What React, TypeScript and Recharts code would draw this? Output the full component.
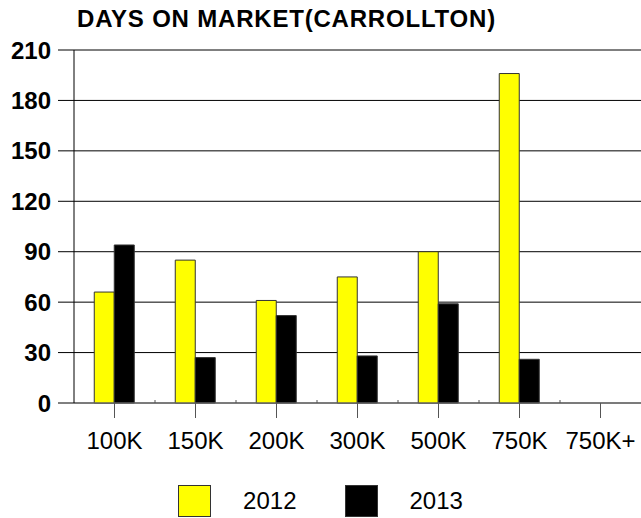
import React from "react";
import { BarChart, Bar, XAxis, YAxis, CartesianGrid, Legend } from "recharts";

const ranges = ["100K", "150K", "200K", "300K", "500K", "750K", "750K+"];
const days2012 = [66, 85, 61, 75, 90, 196, 0];
const days2013 = [94, 27, 52, 28, 59, 26, 0];
const yTicks = [0, 30, 60, 90, 120, 150, 180, 210];

const W = 641;
const H = 518;
const AXIS_W = 74;
const BAND = (W - AXIS_W) / ranges.length;
const FONT = "'Liberation Sans', Arial, sans-serif";

const data = ranges.map((r, i) => ({ range: r, y2012: days2012[i], y2013: days2013[i] }));

const series = [
  { key: "y2012", name: "2012", color: "#ffff00" },
  { key: "y2013", name: "2013", color: "#000000" },
];

const RangeTick = (props: any) => {
  const { x, y, payload, index } = props;
  return (
    <g>
      <line x1={x} x2={x} y1={y} y2={y + 15} stroke="#555" />
      {index < ranges.length - 1 && (
        <line x1={x + BAND / 2} x2={x + BAND / 2} y1={y - 3} y2={y} stroke="#555" />
      )}
      <text x={x} y={y + 46} textAnchor="middle" fontSize={24} fontFamily={FONT} fill="#000">
        {payload.value}
      </text>
    </g>
  );
};

const LegendBox = () => (
  <div
    style={{
      display: "flex",
      justifyContent: "center",
      alignItems: "center",
      fontFamily: FONT,
      fontSize: 24,
      paddingTop: 5,
    }}
  >
    {series.map((s, i) => (
      <div key={s.key} style={{ display: "flex", alignItems: "center", marginLeft: i ? 48 : 0 }}>
        <span style={{ width: 31, height: 30, background: s.color, border: "1px solid #333", display: "inline-block" }} />
        <span style={{ marginLeft: 32, lineHeight: "30px" }}>{s.name}</span>
      </div>
    ))}
  </div>
);

export default function App() {
  return (
    <div style={{ position: "absolute", left: 0, top: 0, width: W, height: H, background: "#fff" }}>
      <div
        style={{
          position: "absolute",
          left: 77,
          top: 7,
          fontFamily: FONT,
          fontWeight: "bold",
          fontSize: 24,
          letterSpacing: 0.8,
          lineHeight: 1,
          whiteSpace: "nowrap",
        }}
      >
        DAYS ON MARKET(CARROLLTON)
      </div>
      <BarChart
        width={W}
        height={H}
        data={data}
        margin={{ top: 50, right: 0, bottom: 0, left: 0 }}
        barCategoryGap="25%"
        barGap={0}
      >
        <CartesianGrid horizontal vertical={false} stroke="#000" />
        <XAxis
          dataKey="range"
          interval={0}
          height={77}
          tickLine={false}
          tickSize={0}
          tickMargin={0}
          axisLine={{ stroke: "#777" }}
          tick={<RangeTick />}
        />
        <YAxis
          width={AXIS_W}
          domain={[0, 210]}
          ticks={yTicks}
          interval={0}
          tickSize={16}
          tickMargin={7}
          axisLine={{ stroke: "#000" }}
          tickLine={{ stroke: "#000" }}
          tick={{ fontSize: 24, fontWeight: "bold", fill: "#000", fontFamily: FONT }}
        />
        <Legend verticalAlign="bottom" height={38} content={<LegendBox />} />
        {series.map((s) => (
          <Bar key={s.key} dataKey={s.key} name={s.name} fill={s.color} stroke="#333" strokeWidth={1} isAnimationActive={false} />
        ))}
      </BarChart>
    </div>
  );
}
